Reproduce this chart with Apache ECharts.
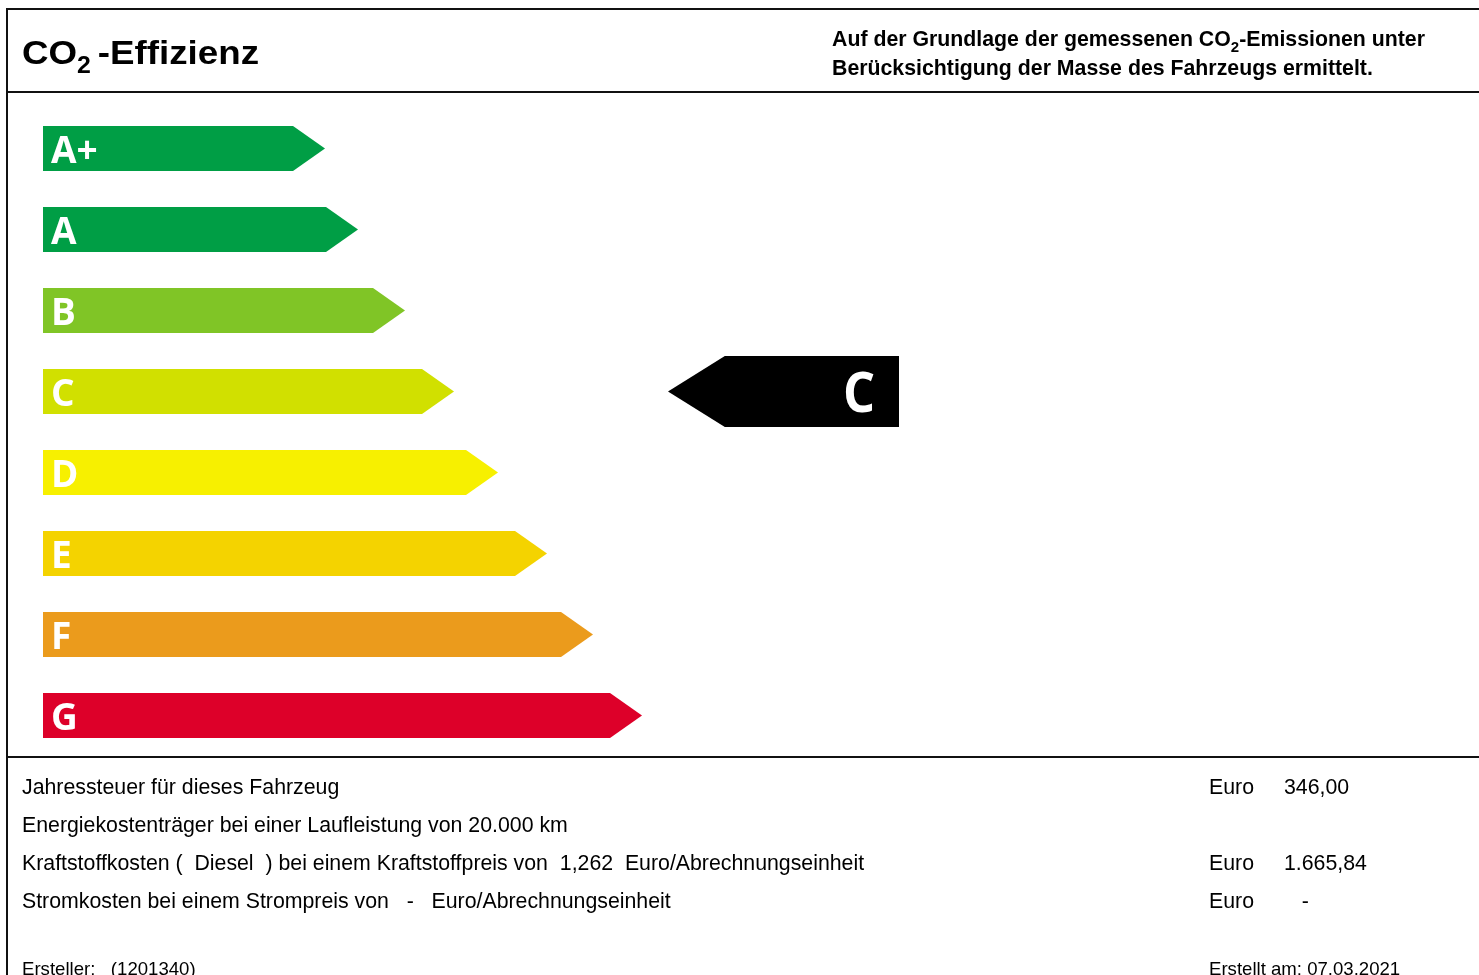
<!DOCTYPE html>
<html><head><meta charset="utf-8">
<script src="https://cdn.jsdelivr.net/npm/echarts@6/dist/echarts.min.js"></script>
<style>html,body{margin:0;padding:0;background:#fff}#c{width:1479px;height:975px}</style>
</head><body><div id="c"></div>
<script>
// ---- data ----
const classes = ['A+', 'A', 'B', 'C', 'D', 'E', 'F', 'G'];
const barLengths = [282, 315, 362, 411, 455, 504, 550, 599];
const barColors = ['#009E45', '#009E45', '#80C526', '#D1E000', '#F7F000', '#F4D300', '#EB9B1C', '#DD0029'];
const ratingClass = 'C';
const ratingRange = [625, 856];
const infoLabels = [
  'Jahressteuer für dieses Fahrzeug',
  'Energiekostenträger bei einer Laufleistung von 20.000 km',
  'Kraftstoffkosten (  Diesel  ) bei einem Kraftstoffpreis von  1,262  Euro/Abrechnungseinheit',
  'Stromkosten bei einem Strompreis von   -   Euro/Abrechnungseinheit'
];
const infoUnits = ['Euro', '', 'Euro', 'Euro'];
const infoValues = ['346,00', '', '1.665,84', '   -'];
const creatorText = 'Ersteller:   (1201340)';
const dateText = 'Erstellt am: 07.03.2021';

const chart = echarts.init(document.getElementById('c'), null, {renderer: 'canvas'});
const SANS = '"Liberation Sans", Arial, sans-serif';
const LABEL_FONT = '"Open Sans", sans-serif';

const barData = classes.map((c, i) => [barLengths[i], c]);
const ratingData = [[ratingRange[0], ratingRange[1], ratingClass]];

const lineStyle = {stroke: '#111', lineWidth: 2};
const graphics = [
  {type: 'line', shape: {x1: 7, y1: 9, x2: 1479, y2: 9}, style: lineStyle, silent: true},
  {type: 'line', shape: {x1: 7, y1: 8, x2: 7, y2: 975}, style: lineStyle, silent: true},
  {type: 'line', shape: {x1: 7, y1: 92, x2: 1479, y2: 92}, style: lineStyle, silent: true},
  {type: 'line', shape: {x1: 7, y1: 757, x2: 1479, y2: 757}, style: lineStyle, silent: true},
  {type: 'text', x: 22, y: 32, scaleX: 1.08, style: {
    text: '{m|CO}{s|2}{g| -Effizienz}',
    rich: {
      m: {fontSize: 34, fontWeight: 'bold', fontFamily: SANS, fill: '#000', lineHeight: 46, verticalAlign: 'middle'},
      g: {fontSize: 34, fontWeight: 'bold', fontFamily: SANS, fill: '#000', lineHeight: 46, verticalAlign: 'middle', padding: [0, 0, 0, -3]},
      s: {fontSize: 23, fontWeight: 'bold', fontFamily: SANS, fill: '#000', lineHeight: 46, verticalAlign: 'bottom'}
    }
  }},
  {type: 'text', x: 832, y: 25, style: {
    text: '{m|Auf der Grundlage der gemessenen CO}{s|2}{m|-Emissionen unter}',
    rich: {
      m: {fontSize: 21.3, fontWeight: 'bold', fontFamily: SANS, fill: '#000', lineHeight: 30, verticalAlign: 'middle'},
      s: {fontSize: 15, fontWeight: 'bold', fontFamily: SANS, fill: '#000', lineHeight: 30, verticalAlign: 'bottom'}
    }
  }},
  {type: 'text', x: 832, y: 69, style: {
    text: 'Berücksichtigung der Masse des Fahrzeugs ermittelt.',
    font: 'bold 21.3px ' + SANS, fill: '#000', verticalAlign: 'middle'
  }}
];
const rowY = [788, 826, 864, 902];
infoLabels.forEach((t, i) => {
  graphics.push({type: 'text', x: 22, y: rowY[i], style: {text: t, font: '21.3px ' + SANS, fill: '#000', verticalAlign: 'middle'}});
  if (infoUnits[i]) graphics.push({type: 'text', x: 1209, y: rowY[i], style: {text: infoUnits[i], font: '21.3px ' + SANS, fill: '#000', verticalAlign: 'middle'}});
  if (infoValues[i]) graphics.push({type: 'text', x: 1284, y: rowY[i], style: {text: infoValues[i], font: '21.3px ' + SANS, fill: '#000', verticalAlign: 'middle'}});
});
graphics.push({type: 'text', x: 22, y: 970, style: {text: creatorText, font: '18.6px ' + SANS, fill: '#000', verticalAlign: 'middle'}});
graphics.push({type: 'text', x: 1209, y: 970, style: {text: dateText, font: '18.6px ' + SANS, fill: '#000', verticalAlign: 'middle'}});

const option = {
  animation: false,
  backgroundColor: '#fff',
  grid: {left: 43, top: 108, width: 900, height: 648, containLabel: false},
  xAxis: {type: 'value', min: 0, max: 900, show: false},
  yAxis: {type: 'category', data: classes, inverse: true, show: false},
  graphic: graphics,
  series: [
    {
      type: 'custom',
      encode: {x: 0, y: 1},
      data: barData,
      renderItem(params, api) {
        const idx = api.value(1);
        const start = api.coord([0, idx]);
        const end = api.coord([api.value(0), idx]);
        const band = api.size([0, 1])[1];
        const h = band * 0.556;
        const tip = h * 0.71;
        const cy = start[1];
        return {
          type: 'group',
          children: [
            {type: 'polygon', shape: {points: [
              [start[0], cy - h / 2], [end[0] - tip, cy - h / 2], [end[0], cy],
              [end[0] - tip, cy + h / 2], [start[0], cy + h / 2]
            ]}, style: {fill: barColors[params.dataIndex]}},
            {type: 'text', x: start[0] + 8, y: cy + 4, style: {
              text: classes[params.dataIndex], fill: '#fff',
              font: 'bold 37px ' + LABEL_FONT, verticalAlign: 'middle', align: 'left'
            }}
          ]
        };
      }
    },
    {
      type: 'custom',
      encode: {x: [0, 1], y: 2},
      data: ratingData,
      renderItem(params, api) {
        const idx = api.value(2);
        const p0 = api.coord([api.value(0), idx]);
        const p1 = api.coord([api.value(1), idx]);
        const band = api.size([0, 1])[1];
        const h = band * 0.877;
        const tip = h * 0.8;
        const cy = p0[1];
        return {
          type: 'group',
          children: [
            {type: 'polygon', shape: {points: [
              [p0[0], cy], [p0[0] + tip, cy - h / 2], [p1[0], cy - h / 2],
              [p1[0], cy + h / 2], [p0[0] + tip, cy + h / 2]
            ]}, style: {fill: '#000'}},
            {type: 'text', x: p1[0] - 24, y: cy + 5, scaleX: 0.9, style: {
              text: ratingClass, fill: '#fff',
              font: 'bold 56px ' + LABEL_FONT, verticalAlign: 'middle', align: 'right'
            }}
          ]
        };
      }
    }
  ]
};
chart.setOption(option);
</script>
</body></html>
